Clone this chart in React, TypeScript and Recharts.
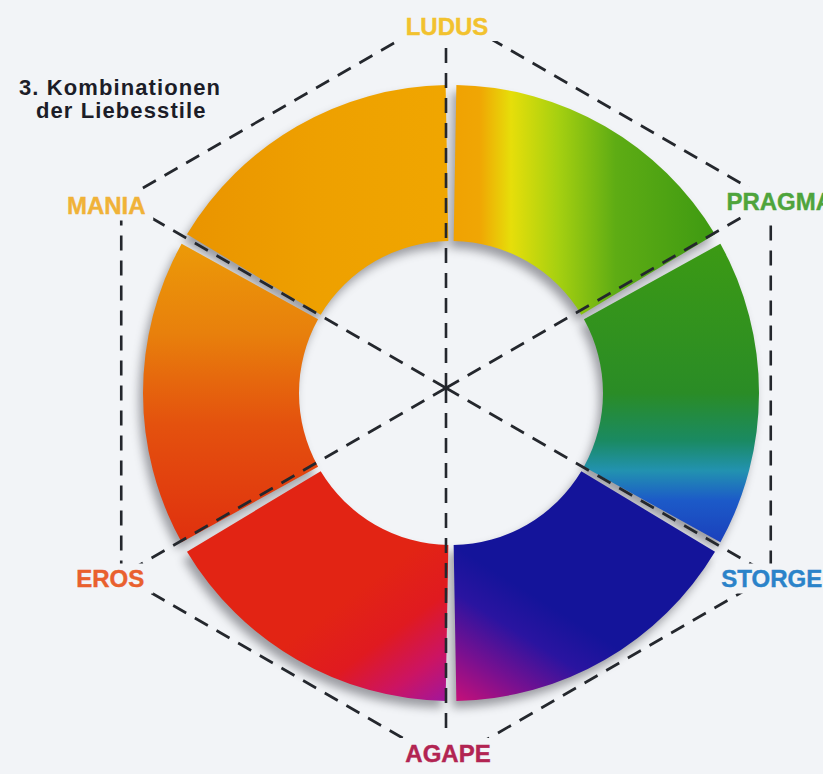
import React from 'react';
import { PieChart, Pie, Cell, RadarChart, Radar, PolarGrid, PolarAngleAxis } from 'recharts';

// ---- data ----
const loveStyles = ['LUDUS', 'PRAGMA', 'STORGE', 'AGAPE', 'EROS', 'MANIA'];
const loveStyleAxis = [1, 1, 1, 1, 1, 1];
const combinations = ['Ludus–Pragma', 'Pragma–Storge', 'Storge–Agape', 'Agape–Eros', 'Eros–Mania', 'Mania–Ludus'];
const combinationShare = [1, 1, 1, 1, 1, 1];
const titleLines = ['3. Kombinationen', 'der Liebesstile'];

// ---- layout / style ----
const W = 823;
const H = 774;
const CX = 446;
const CY = 388;
const HEX_R = 375;
const RING_INNER = 152;
const RING_OUTER = 308;
const BG = '#f2f4f7';
const FONT = '"Liberation Sans", Arial, Helvetica, sans-serif';

const labelLook: Record<string, { color: string; dx: number; dy: number; w: number }> = {
  LUDUS: { color: '#f2c22e', dx: 1, dy: 13, w: 100 },
  PRAGMA: { color: '#4ea43c', dx: 9, dy: 1, w: 130 },
  STORGE: { color: '#2b83c9', dx: 1, dy: 3, w: 112 },
  AGAPE: { color: '#b22452', dx: 2, dy: -10, w: 100 },
  EROS: { color: '#e9602e', dx: -11, dy: 3, w: 86 },
  MANIA: { color: '#f0b238', dx: -15, dy: 5, w: 94 },
};

type Grad = { x1: number; y1: number; x2: number; y2: number; stops: [number, string][] };
const segmentGradients: Grad[] = [
  { x1: 0, y1: 0, x2: 1, y2: 0, stops: [[0, '#f0a202'], [0.1, '#f0a604'], [0.22, '#e6de0a'], [0.4, '#a6d010'], [0.62, '#5eac14'], [1, '#3e9a12']] },
  { x1: 0, y1: 0, x2: 0, y2: 1, stops: [[0, '#3c9a14'], [0.5, '#2a8c26'], [0.66, '#1a8a62'], [0.76, '#2292b0'], [0.86, '#1c5ac8'], [1, '#1a40bc']] },
  { x1: 0, y1: 1, x2: 0.32, y2: 0.55, stops: [[0, '#c81078'], [0.35, '#781090'], [0.7, '#2a14a0'], [1, '#14149a']] },
  { x1: 1, y1: 1, x2: 0.62, y2: 0.55, stops: [[0, '#a0169e'], [0.3, '#cc1462'], [0.62, '#e01a20'], [1, '#e22414']] },
  { x1: 0, y1: 0, x2: 0, y2: 1, stops: [[0, '#ec9a08'], [0.3, '#e8800c'], [0.6, '#e4520e'], [1, '#e0300e']] },
  { x1: 0, y1: 0, x2: 1, y2: 0, stops: [[0, '#ea9400'], [0.5, '#eea000'], [1, '#f0a600']] },
];

const ringData = combinations.map((name, i) => ({ name, value: combinationShare[i] }));
const hexData = loveStyles.map((name, i) => ({ name, v: loveStyleAxis[i] }));

const StyleTick = (props: any) => {
  const { x, y, payload } = props;
  const ux = x - CX;
  const uy = y - CY;
  const len = Math.hypot(ux, uy) || 1;
  const vx = CX + (ux / len) * HEX_R;
  const vy = CY + (uy / len) * HEX_R;
  const look = labelLook[payload.value];
  const lx = vx + look.dx;
  const ly = vy + look.dy;
  return (
    <g>
      <rect x={lx - look.w / 2} y={ly - 15} width={look.w} height={30} fill={BG} />
      <text
        x={lx}
        y={ly}
        textAnchor="middle"
        dominantBaseline="central"
        fill={look.color}
        fontSize={24}
        fontWeight={700}
        fontFamily={FONT}
        stroke={look.color}
        strokeWidth={0.4}
      >
        {payload.value}
      </text>
    </g>
  );
};

export default function App() {
  return (
    <div style={{ position: 'fixed', left: 0, top: 0, width: W, height: H, background: BG, overflow: 'hidden' }}>
      <div style={{ position: 'absolute', left: 0, top: 0, filter: 'drop-shadow(-4px 7px 5px rgba(50,50,60,0.45))' }}>
        <PieChart width={W} height={H}>
          <defs>
            {segmentGradients.map((g, i) => (
              <linearGradient key={i} id={`seg${i}`} x1={g.x1} y1={g.y1} x2={g.x2} y2={g.y2}>
                {g.stops.map(([o, c], j) => (
                  <stop key={j} offset={o} stopColor={c} />
                ))}
              </linearGradient>
            ))}
          </defs>
          <Pie
            data={ringData}
            dataKey="value"
            nameKey="name"
            cx={CX}
            cy={CY}
            innerRadius={RING_INNER}
            outerRadius={RING_OUTER}
            startAngle={89}
            endAngle={-271}
            paddingAngle={2}
            stroke="none"
            isAnimationActive={false}
          >
            {ringData.map((d, i) => (
              <Cell key={d.name} fill={`url(#seg${i})`} />
            ))}
          </Pie>
        </PieChart>
      </div>
      <div style={{ position: 'absolute', left: 0, top: 0 }}>
        <RadarChart width={W} height={H} data={hexData} cx={CX} cy={CY} outerRadius={HEX_R} startAngle={90} endAngle={-270}>
          <PolarGrid
            gridType="polygon"
            polarRadius={[HEX_R]}
            stroke="#24272d"
            strokeWidth={2.6}
            strokeDasharray="15 10"
          />
          <PolarAngleAxis dataKey="name" tick={(p: any) => <StyleTick {...p} />} axisLine={false} tickLine={false} />
          <Radar dataKey="v" stroke="none" fill="none" dot={false} isAnimationActive={false} />
        </RadarChart>
      </div>
      <div
        style={{
          position: 'absolute',
          left: 19,
          top: 76,
          fontFamily: FONT,
          fontWeight: 700,
          fontSize: 22,
          lineHeight: '23px',
          letterSpacing: '1.1px',
          color: '#1c1d28',
          whiteSpace: 'nowrap',
        }}
      >
        <div>{titleLines[0]}</div>
        <div style={{ marginLeft: 17 }}>{titleLines[1]}</div>
      </div>
    </div>
  );
}
